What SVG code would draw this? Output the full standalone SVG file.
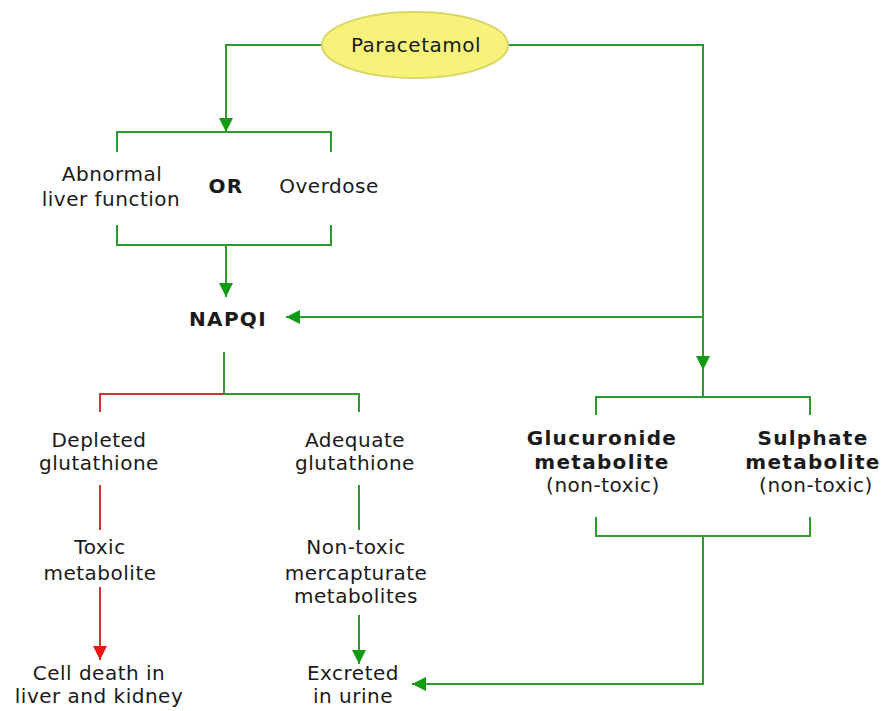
<svg xmlns="http://www.w3.org/2000/svg" width="882" height="711" viewBox="0 0 882 711">
<defs>
<style>
.t{font-family:"DejaVu Sans",Verdana,sans-serif;font-size:20px;letter-spacing:0.5px;fill:#1a1a1a;text-anchor:middle}
.b{font-weight:bold;letter-spacing:1.3px}
.g{stroke:#2f9a2f;stroke-width:2;fill:none}
.r{stroke:#cc3333;stroke-width:2;fill:none}
</style>
<marker id="ag" markerWidth="16" markerHeight="14" refX="14" refY="7" orient="auto" markerUnits="userSpaceOnUse">
<path d="M0,0 L14,7 L0,14 Z" fill="#129a12"/>
</marker>
<marker id="ar" markerWidth="16" markerHeight="14" refX="14" refY="7" orient="auto" markerUnits="userSpaceOnUse">
<path d="M0,0 L14,7 L0,14 Z" fill="#ee1515"/>
</marker>
</defs>
<rect width="882" height="711" fill="#ffffff"/>
<g id="connectors">
<path class="g" d="M322,45 H226 V132" marker-end="url(#ag)"/>
<path class="g" d="M117,152 V132 H331 V152"/>
<path class="g" d="M117,225 V245 H331 V225"/>
<path class="g" d="M226,245 V297" marker-end="url(#ag)"/>
<path class="g" d="M508,45 H703 V370" marker-end="url(#ag)"/>
<path class="g" d="M703,317 H286" marker-end="url(#ag)"/>
<path class="g" d="M703,368 V397"/>
<path class="g" d="M596,415 V397 H810 V415"/>
<path class="g" d="M596,517 V536 H810 V517"/>
<path class="g" d="M703,536 V684 H412" marker-end="url(#ag)"/>
<path class="g" d="M224,352 V394 H359 V412"/>
<path class="r" d="M224,394 H100 V412"/>
<path class="r" d="M100,485 V530"/>
<path class="r" d="M100,587 V660" marker-end="url(#ar)"/>
<path class="g" d="M359,485 V530"/>
<path class="g" d="M359,615 V664" marker-end="url(#ag)"/>
</g>
<g id="paracetamol">
<ellipse cx="415" cy="45" rx="93" ry="33" fill="#f6f27a" stroke="#d9d668" stroke-width="2"/>
<text class="t" x="416" y="52">Paracetamol</text>
</g>
<g id="abnormal">
<text class="t" x="112" y="181">Abnormal</text>
<text class="t" x="111" y="206">liver function</text>
</g>
<g id="or"><text class="t b" x="226" y="193">OR</text></g>
<g id="overdose"><text class="t" x="329" y="193">Overdose</text></g>
<g id="napqi"><text class="t b" x="228" y="326">NAPQI</text></g>
<g id="depleted">
<text class="t" x="99" y="447">Depleted</text>
<text class="t" x="99" y="470">glutathione</text>
</g>
<g id="adequate">
<text class="t" x="355" y="447">Adequate</text>
<text class="t" x="355" y="470">glutathione</text>
</g>
<g id="toxic">
<text class="t" x="100" y="554">Toxic</text>
<text class="t" x="100" y="580">metabolite</text>
</g>
<g id="nontoxic">
<text class="t" x="356" y="554">Non-toxic</text>
<text class="t" x="356" y="580">mercapturate</text>
<text class="t" x="356" y="603">metabolites</text>
</g>
<g id="celldeath">
<text class="t" x="99" y="680">Cell death in</text>
<text class="t" x="99" y="703">liver and kidney</text>
</g>
<g id="excreted">
<text class="t" x="353" y="680">Excreted</text>
<text class="t" x="353" y="703">in urine</text>
</g>
<g id="glucuronide">
<text class="t b" x="602" y="445">Glucuronide</text>
<text class="t b" x="602" y="469">metabolite</text>
<text class="t" x="603" y="492">(non-toxic)</text>
</g>
<g id="sulphate">
<text class="t b" x="813" y="445">Sulphate</text>
<text class="t b" x="813" y="469">metabolite</text>
<text class="t" x="816" y="492">(non-toxic)</text>
</g>
</svg>
